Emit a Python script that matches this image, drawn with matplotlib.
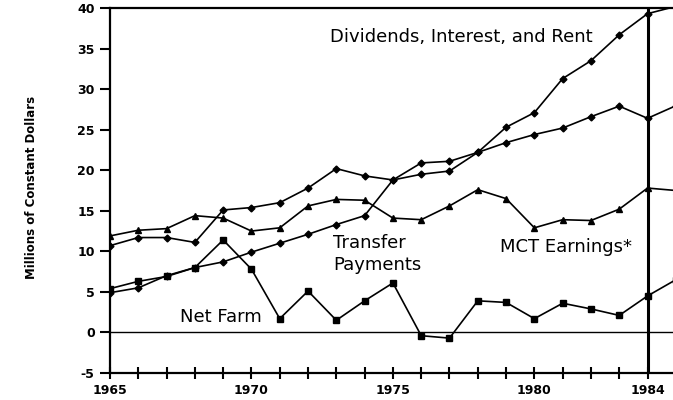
import matplotlib
matplotlib.use("Agg")
import matplotlib.pyplot as plt

years = [1965, 1966, 1967, 1968, 1969, 1970, 1971, 1972, 1973, 1974, 1975,
         1976, 1977, 1978, 1979, 1980, 1981, 1982, 1983, 1984, 1985]

dividends = [10.7, 11.7, 11.7, 11.1, 15.1, 15.4, 16.0, 17.8, 20.2, 19.3, 18.8,
             19.5, 19.9, 22.2, 25.3, 27.1, 31.3, 33.5, 36.7, 39.3, 40.2]
mct = [11.9, 12.6, 12.8, 14.4, 14.1, 12.5, 12.9, 15.6, 16.4, 16.3, 14.1,
       13.9, 15.6, 17.6, 16.5, 12.9, 13.9, 13.8, 15.2, 17.8, 17.5]
transfer = [4.9, 5.5, 7.0, 8.0, 8.7, 9.9, 11.0, 12.1, 13.3, 14.4, 18.8,
            20.9, 21.1, 22.2, 23.4, 24.4, 25.2, 26.6, 27.9, 26.4, 27.95]
net_farm = [5.4, 6.3, 6.9, 8.0, 11.4, 7.8, 1.7, 5.1, 1.5, 3.9, 6.1,
            -0.4, -0.7, 3.9, 3.7, 1.7, 3.6, 2.9, 2.1, 4.5, 6.5]

year_labels = [1965, 1970, 1975, 1980, 1984]
y_ticks = [-5, 0, 5, 10, 15, 20, 25, 30, 35, 40]

fig = plt.figure(figsize=(6.73, 4.0), dpi=100)
ax = fig.add_axes([110 / 673, 27 / 400, 1 - 110 / 673, (373 - 8) / 400])

lw = 1.2
ax.plot(years, dividends, color="black", lw=lw, marker="D", ms=3.5)
ax.plot(years, mct, color="black", lw=lw, marker="^", ms=5)
ax.plot(years, transfer, color="black", lw=lw, marker="D", ms=3.5)
ax.plot(years, net_farm, color="black", lw=lw, marker="s", ms=5)

ax.axhline(0, color="black", lw=1.0)
ax.axvline(1984, color="black", lw=2.2)

ax.set_xlim(1965, 1984.9)
ax.set_ylim(-5, 40)

ax.spines["right"].set_visible(False)
for s in ["left", "top", "bottom"]:
    ax.spines[s].set_linewidth(1.6)

ax.set_yticks(y_ticks)
ax.set_yticklabels([str(v) for v in y_ticks], fontweight="bold", fontsize=9)
ax.tick_params(axis="y", direction="out", length=7, width=1.5, pad=4)

ax.set_xticks(year_labels)
ax.set_xticklabels([str(v) for v in year_labels], fontweight="bold", fontsize=9)
ax.set_xticks(years[:-1], minor=True)
ax.tick_params(axis="x", which="both", direction="inout", length=8, width=1.5, pad=4)

fig.text(32 / 673, 0.531, "Millions of Constant Dollars", rotation=90,
         fontweight="bold", fontsize=8.5, ha="center", va="center")

tf = dict(fontfamily="DejaVu Sans", fontsize=13, color="black", va="baseline")
ax.text(1972.77, 35.8, "Dividends, Interest, and Rent", **tf)
ax.text(1972.88, 10.35, "Transfer", **tf)
ax.text(1972.88, 7.76, "Payments", **tf)
ax.text(1978.78, 9.9, "MCT Earnings*", **tf)
ax.text(1967.47, 1.27, "Net Farm", **tf)

plt.savefig("out.png", dpi=100)
